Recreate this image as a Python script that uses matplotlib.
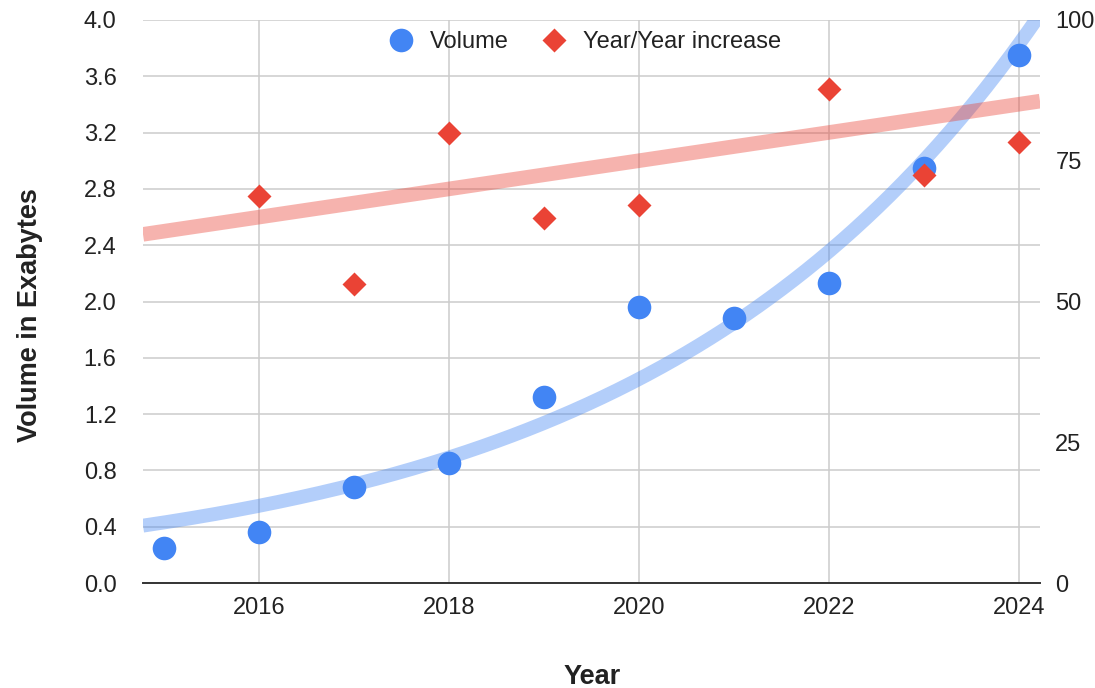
import numpy as np
import matplotlib
matplotlib.use("Agg")
from matplotlib import pyplot as plt
from matplotlib.lines import Line2D

plt.rcParams['font.family'] = ['Liberation Sans', 'DejaVu Sans']

# yearly data volume and growth over the previous year
years = [2015, 2016, 2017, 2018, 2019, 2020, 2021, 2022, 2023, 2024]
volume = [0.25, 0.36, 0.68, 0.85, 1.32, 1.96, 1.88, 2.13, 2.95, 3.75]

yoy_years = [2016, 2017, 2018, 2019, 2020, 2021, 2022, 2023, 2024]
yoy_increase = [68.7, 53.1, 79.9, 64.8, 67.1, 103.0, 87.7, 72.5, 78.3]

# exponential trend for volume: start * exp(rate * (year - 2015))
volume_trend_start = 0.43
volume_trend_rate = 0.243

left_ticks = np.arange(0, 4.01, 0.4)
right_ticks = [0, 25, 50, 75, 100]
x_ticks = [2016, 2018, 2020, 2022, 2024]

blue = '#4285F4'
red = '#EA4335'
text_col = '#222222'

fig = plt.figure(figsize=(10.95, 6.88), dpi=100)
ax = fig.add_axes([143 / 1095, 1 - 583 / 688, 897 / 1095, 563 / 688])
ax2 = ax.twinx()

xlim = (2014.78, 2024.22)
xs = np.linspace(xlim[0], xlim[1], 300)

# volume on the left axis
ax.plot(xs, volume_trend_start * np.exp(volume_trend_rate * (xs - 2015)),
        color=blue, alpha=0.4, lw=10, solid_capstyle='butt', zorder=2)
ax.plot(years, volume, 'o', color=blue, ms=17, mec='none', zorder=3)

# year/year increase on the right axis, with a linear trend
coef = np.polyfit(yoy_years, yoy_increase, 1)
ax2.plot(xs, np.polyval(coef, xs), color=red, alpha=0.4, lw=10.5,
         solid_capstyle='butt', zorder=2)
ax2.plot(yoy_years, yoy_increase, 'D', color=red, ms=11.8, mec='none', zorder=3)

ax.set_xlim(*xlim)
ax.set_ylim(0, 4.0)
ax2.set_ylim(0, 100)

ax.set_yticks(left_ticks)
ax.set_yticklabels([f'{v:.1f}' for v in left_ticks])
ax.set_xticks(x_ticks)
ax2.set_yticks(right_ticks)

ax.grid(True, color='#cccccc', lw=1.1)
ax.set_axisbelow(True)
for a in (ax, ax2):
    for side in ('top', 'right', 'left', 'bottom'):
        a.spines[side].set_visible(False)
ax.spines['bottom'].set_visible(True)
ax.spines['bottom'].set_color('#333333')
ax.spines['bottom'].set_linewidth(1.4)
ax.spines['bottom'].set_zorder(4)

ax.tick_params(axis='y', length=0, pad=19, labelsize=17, labelcolor=text_col)
ax.tick_params(axis='x', length=0, pad=10, labelsize=17, labelcolor=text_col)
ax2.tick_params(axis='y', length=0, pad=11, labelsize=17, labelcolor=text_col)

fig.text(30 / 1095, 1 - 315 / 688, 'Volume in Exabytes', rotation=90,
         ha='center', va='center', fontsize=19.5, fontweight='bold', color=text_col)
fig.text(592 / 1095, 1 - 677 / 688, 'Year', ha='center', va='center',
         fontsize=19.5, fontweight='bold', color=text_col)

handles = [
    Line2D([], [], ls='none', marker='o', color=blue, ms=17, mec='none'),
    Line2D([], [], ls='none', marker='D', color=red, ms=11.8, mec='none'),
]
ax2.legend(handles, ['Volume', 'Year/Year increase'], loc='center',
           bbox_to_anchor=(0.493, (583 - 42) / 563), ncol=2, frameon=False,
           fontsize=17, handlelength=1.0, handletextpad=0.75, columnspacing=1.4,
           labelcolor=text_col)

fig.savefig('out.png', dpi=100)
